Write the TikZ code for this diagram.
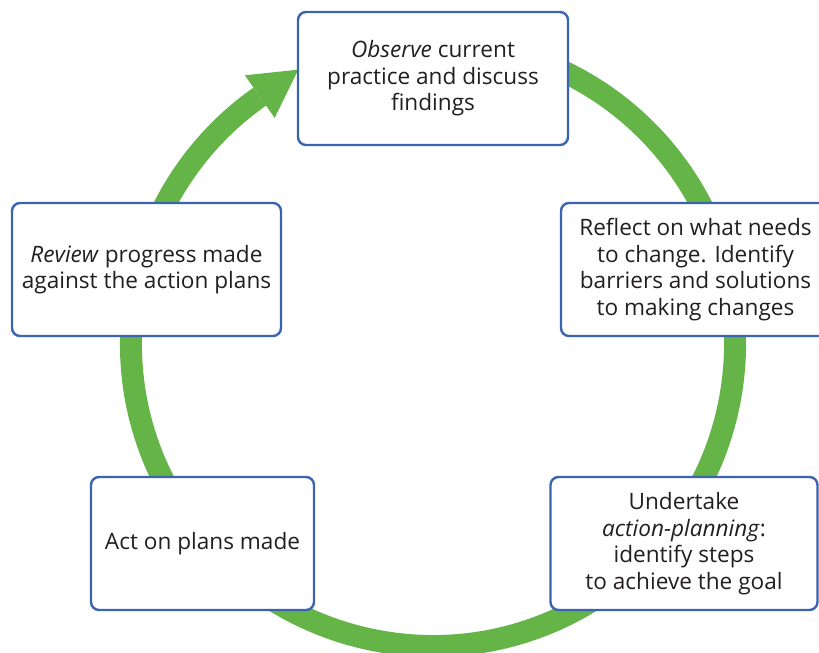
\documentclass[tikz,border=0pt]{standalone}
\usepackage{fontspec}
\setmainfont{Open Sans}
\usetikzlibrary{calc}
\definecolor{ringgreen}{RGB}{100,180,72}
\definecolor{boxblue}{RGB}{58,100,176}
\definecolor{txt}{RGB}{35,31,32}
\begin{document}
\begin{tikzpicture}[x=1pt,y=1pt,
  stagebox/.style={draw=boxblue, line width=2.4pt, rounded corners=8pt, fill=white,
    align=center, text=txt, font=\fontsize{22.6}{26.6}\selectfont, inner sep=0pt,
    minimum height=133pt}]
\clip (0,0) rectangle (819,653);
\coordinate (c) at (433,309);
\draw[ringgreen, line width=22pt] ($(c)+(80:302)$) arc[start angle=80, end angle=-235, radius=302];
\fill[ringgreen] ($(c)+(125:328)$) -- ($(c)+(125:302)+(35:47)$) -- ($(c)+(125:276)$) -- cycle;
\node[stagebox, minimum width=270pt] (observe) at (433,574.5) {\textit{Observe} current\\practice and discuss\\findings};
\node[stagebox, minimum width=269pt] (review) at (146.5,383.5) {\textit{Review} progress made\\against the action plans};
\node[stagebox, minimum width=269pt] (reflect) at (695.5,383.5) {Reflect on what needs\\to change. Identify\\barriers and solutions\\to making changes};
\node[stagebox, minimum width=223pt] (act) at (202.5,109.5) {Act on plans made};
\node[stagebox, minimum width=267pt] (undertake) at (684,109.5) {Undertake\\\textit{action-planning}:\\identify steps\\to achieve the goal};
\end{tikzpicture}
\end{document}
